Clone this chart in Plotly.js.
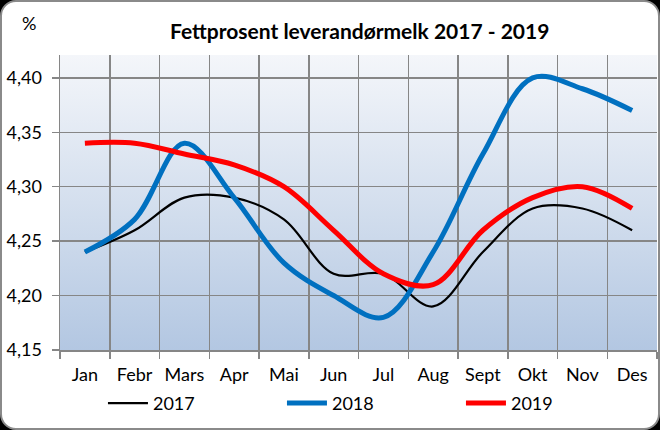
<!DOCTYPE html>
<html>
<head>
<meta charset="utf-8">
<script src="https://cdn.plot.ly/plotly-3.0.1.min.js"></script>
<style>
html,body{margin:0;padding:0;background:#000;width:660px;height:430px;overflow:hidden;}
#frame{position:absolute;left:0;top:0;width:660px;height:430px;box-sizing:border-box;border:2px solid #8a8a8a;border-radius:16px;background:#fff;}
#chart{position:absolute;left:0;top:0;width:660px;height:430px;}
</style>
</head>
<body>
<div id="frame"></div>
<div id="chart"></div>
<script>
const months = ["Jan","Febr","Mars","Apr","Mai","Jun","Jul","Aug","Sept","Okt","Nov","Des"];
const fat2017 = [4.24, 4.26, 4.29, 4.29, 4.27, 4.22, 4.22, 4.19, 4.24, 4.28, 4.28, 4.26];
const fat2018 = [4.24, 4.27, 4.34, 4.29, 4.23, 4.20, 4.18, 4.24, 4.33, 4.40, 4.39, 4.37];
const fat2019 = [4.34, 4.34, 4.33, 4.32, 4.30, 4.26, 4.22, 4.21, 4.26, 4.29, 4.30, 4.28];

const fontFam = "Lato, 'Open Sans', sans-serif";

const grad = 'data:image/svg+xml;utf8,' + encodeURIComponent(
 '<svg xmlns="http://www.w3.org/2000/svg" width="10" height="100" viewBox="0 0 10 100" preserveAspectRatio="none">' +
 '<defs><linearGradient id="g" x1="0" y1="0" x2="0" y2="1">' +
 '<stop offset="0" stop-color="#f4f6fa"/><stop offset="0.5" stop-color="#d4dfee"/><stop offset="1" stop-color="#b3c7e2"/>' +
 '</linearGradient></defs><rect width="10" height="100" fill="url(#g)"/></svg>');

const traces = [
 {x: months, y: fat2017, name: "2017", type: "scatter", mode: "lines",
  line: {color: "#000000", width: 2.2, shape: "spline", smoothing: 1}},
 {x: months, y: fat2018, name: "2018", type: "scatter", mode: "lines",
  line: {color: "#0070c0", width: 5, shape: "spline", smoothing: 1}},
 {x: months, y: fat2019, name: "2019", type: "scatter", mode: "lines",
  line: {color: "#ff0000", width: 5, shape: "spline", smoothing: 1}}
];

const layout = {
 width: 660, height: 430,
 margin: {l: 60, r: 3, t: 55, b: 80},
 paper_bgcolor: "rgba(0,0,0,0)",
 plot_bgcolor: "rgba(0,0,0,0)",
 separators: ",.",
 font: {family: fontFam, size: 18, color: "#000"},
 title: {text: "<b>Fettprosent leverandørmelk 2017 - 2019</b>", font: {family: fontFam, size: 21, color: "#000"},
   x: 0.545, xanchor: "center", y: 0.927, yanchor: "middle"},
 xaxis: {type: "category", tickson: "boundaries", ticks: "outside", ticklen: 7, tickcolor: "#868686", tickwidth: 1.5,
   showgrid: true, gridcolor: "#868686", gridwidth: 1.5, showline: true, linecolor: "#868686", linewidth: 1.5,
   range: [-0.5, 11.5], tickfont: {size: 18}, ticklabelstandoff: 8, fixedrange: true, automargin: false},
 yaxis: {range: [4.15, 4.421], tick0: 4.15, dtick: 0.05, tickformat: ".2f", ticks: "outside", ticklen: 7,
   tickcolor: "#868686", tickwidth: 1.5, showgrid: true, gridcolor: "#868686", gridwidth: 1.5,
   showline: true, linecolor: "#868686", linewidth: 1.5, zeroline: false, tickfont: {size: 18}, ticklabelstandoff: 6,
   fixedrange: true, automargin: false},
 showlegend: true,
 legend: {orientation: "h", xref: "container", yref: "container", x: 0.156, xanchor: "left", y: 0.105, yanchor: "top",
   entrywidth: 124, entrywidthmode: "pixels",
   font: {size: 18}, bgcolor: "rgba(0,0,0,0)", itemwidth: 40, tracegroupgap: 0},
 images: [{source: grad, xref: "paper", yref: "paper", x: 0, y: 1, sizex: 1, sizey: 1, sizing: "stretch",
   xanchor: "left", yanchor: "top", layer: "below"}],
 annotations: [{text: "%", xref: "paper", yref: "paper", x: -0.052, y: 1.11, showarrow: false, xanchor: "center", yanchor: "middle",
   font: {size: 18, color: "#000"}}]
};

Plotly.newPlot("chart", traces, layout, {displayModeBar: false, staticPlot: true});
</script>
</body>
</html>
